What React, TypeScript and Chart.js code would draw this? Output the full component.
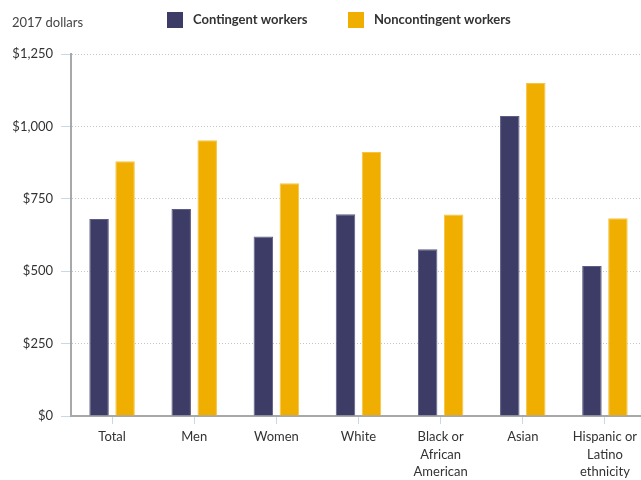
import { useEffect, useRef } from "react";
import { Chart, registerables } from "chart.js";

Chart.register(...registerables);

// Median weekly earnings by group, 2017 dollars
const categories: string[][] = [
  ["Total"],
  ["Men"],
  ["Women"],
  ["White"],
  ["Black or", "African", "American"],
  ["Asian"],
  ["Hispanic or", "Latino", "ethnicity"],
];
const contingent = [680, 715, 620, 697, 576, 1036, 518];
const noncontingent = [880, 952, 804, 912, 696, 1150, 683];
const yTickValues = [0, 250, 500, 750, 1000, 1250];
const seriesNames = ["Contingent workers", "Noncontingent workers"];
const unitLabel = "2017 dollars";

const DARK = "#3c3c66";
const GOLD = "#f0ae00";
const FONT = "Lato, 'Open Sans', sans-serif";

const headerPlugin = {
  id: "header",
  afterDraw(chart: Chart) {
    const ctx = chart.ctx;
    ctx.save();
    ctx.textBaseline = "middle";
    ctx.textAlign = "left";
    ctx.fillStyle = "#444";
    ctx.font = `13px ${FONT}`;
    ctx.fillText(unitLabel, 12, 23);

    const items = [
      { x: 167, color: DARK, label: seriesNames[0] },
      { x: 348, color: GOLD, label: seriesNames[1] },
    ];
    ctx.font = `bold 13px ${FONT}`;
    for (const it of items) {
      ctx.fillStyle = it.color;
      ctx.fillRect(it.x, 12, 16, 16);
      ctx.fillStyle = "#333";
      ctx.fillText(it.label, it.x + 26, 20);
    }
    ctx.restore();
  },
};

export default function App() {
  const ref = useRef<HTMLCanvasElement | null>(null);

  useEffect(() => {
    if (!ref.current) return;
    const chart = new Chart(ref.current, {
      type: "bar",
      data: {
        labels: categories,
        datasets: [
          {
            label: seriesNames[0],
            data: contingent,
            backgroundColor: DARK,
            borderColor: "#5c5c84",
            borderWidth: 1,
            categoryPercentage: 0.633,
            barPercentage: 0.75,
          },
          {
            label: seriesNames[1],
            data: noncontingent,
            backgroundColor: GOLD,
            borderColor: "#f6c440",
            borderWidth: 1,
            categoryPercentage: 0.633,
            barPercentage: 0.75,
          },
        ],
      },
      options: {
        responsive: false,
        animation: false,
        devicePixelRatio: 1,
        layout: { padding: { top: 54, left: 0, right: 0, bottom: 0 } },
        plugins: {
          legend: { display: false },
          tooltip: { enabled: false },
        },
        scales: {
          x: {
            grid: {
              offset: false,
              drawOnChartArea: false,
              drawTicks: true,
              tickLength: 8,
              tickColor: "#c9d7e6",
              tickWidth: 1,
            },
            border: { display: true, color: "#a8a8a8", width: 2 },
            ticks: {
              color: "#333",
              font: { family: FONT, size: 13, lineHeight: 1.35 },
              padding: 4,
              maxRotation: 0,
              autoSkip: false,
            },
            afterFit(scale: any) {
              scale.height = 64;
            },
          },
          y: {
            min: 0,
            max: 1250,
            afterBuildTicks(scale: any) {
              scale.ticks = yTickValues.map((v) => ({ value: v }));
            },
            grid: {
              color: "#c4c4c4",
              lineWidth: 1,
              drawTicks: true,
              tickLength: 10,
              tickColor: "#c9d7e6",
              tickWidth: 1,
            },
            border: { display: true, color: "#a8a8a8", width: 2, dash: [1, 2] },
            ticks: {
              color: "#333",
              font: { family: FONT, size: 13 },
              padding: 8,
              callback: (v: any) => "$" + Number(v).toLocaleString("en-US"),
            },
            afterFit(scale: any) {
              scale.width = 71;
            },
          },
        },
      },
      plugins: [headerPlugin],
    });
    return () => chart.destroy();
  }, []);

  return (
    <div
      style={{
        position: "absolute",
        left: 0,
        top: 0,
        width: 641,
        height: 480,
        overflow: "hidden",
        background: "#fff",
      }}
    >
      <canvas ref={ref} width={646} height={480} style={{ width: 646, height: 480 }} />
    </div>
  );
}
